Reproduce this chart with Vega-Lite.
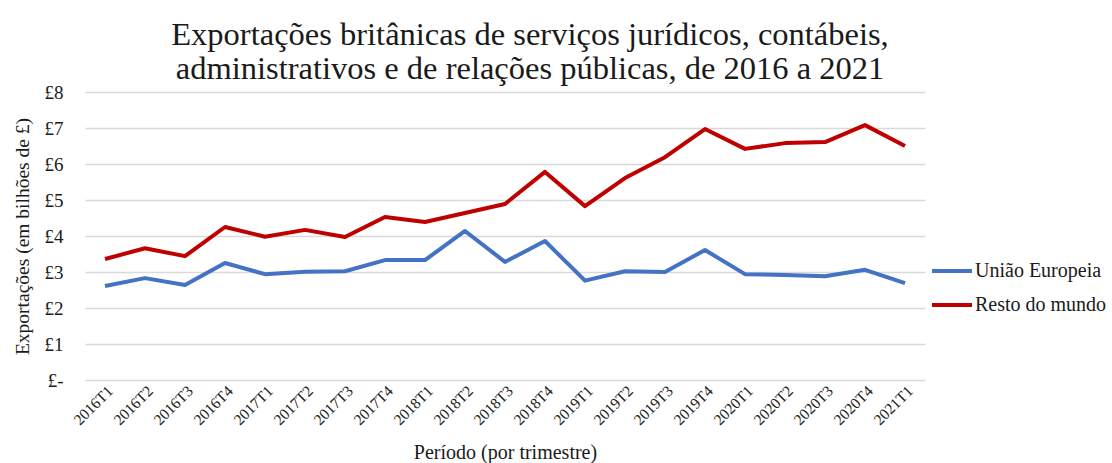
{
  "$schema": "https://vega.github.io/schema/vega-lite/v6.json",
  "width": 840,
  "height": 288,
  "autosize": "none",
  "padding": {"left": 85, "top": 92, "right": 187, "bottom": 83},
  "background": "white",
  "config": {"font": "Liberation Serif", "view": {"stroke": null}},
  "title": {
    "text": ["Exportações britânicas de serviços jurídicos, contábeis,", "administrativos e de relações públicas, de 2016 a 2021"],
    "font": "Liberation Serif",
    "fontSize": 32.5,
    "fontWeight": "normal",
    "color": "#1a1a1a",
    "anchor": "middle",
    "dx": 25,
    "offset": -2,
    "lineHeight": 34
  },
  "data": {
    "values": [
      {"periodo": "2016T1", "serie": "União Europeia", "valor": 2.61},
      {"periodo": "2016T2", "serie": "União Europeia", "valor": 2.83},
      {"periodo": "2016T3", "serie": "União Europeia", "valor": 2.64},
      {"periodo": "2016T4", "serie": "União Europeia", "valor": 3.25},
      {"periodo": "2017T1", "serie": "União Europeia", "valor": 2.94},
      {"periodo": "2017T2", "serie": "União Europeia", "valor": 3.01},
      {"periodo": "2017T3", "serie": "União Europeia", "valor": 3.02},
      {"periodo": "2017T4", "serie": "União Europeia", "valor": 3.33},
      {"periodo": "2018T1", "serie": "União Europeia", "valor": 3.33},
      {"periodo": "2018T2", "serie": "União Europeia", "valor": 4.14},
      {"periodo": "2018T3", "serie": "União Europeia", "valor": 3.28},
      {"periodo": "2018T4", "serie": "União Europeia", "valor": 3.86},
      {"periodo": "2019T1", "serie": "União Europeia", "valor": 2.76},
      {"periodo": "2019T2", "serie": "União Europeia", "valor": 3.02},
      {"periodo": "2019T3", "serie": "União Europeia", "valor": 3.0},
      {"periodo": "2019T4", "serie": "União Europeia", "valor": 3.61},
      {"periodo": "2020T1", "serie": "União Europeia", "valor": 2.94},
      {"periodo": "2020T2", "serie": "União Europeia", "valor": 2.92},
      {"periodo": "2020T3", "serie": "União Europeia", "valor": 2.88},
      {"periodo": "2020T4", "serie": "União Europeia", "valor": 3.06},
      {"periodo": "2021T1", "serie": "União Europeia", "valor": 2.69},
      {"periodo": "2016T1", "serie": "Resto do mundo", "valor": 3.36},
      {"periodo": "2016T2", "serie": "Resto do mundo", "valor": 3.66},
      {"periodo": "2016T3", "serie": "Resto do mundo", "valor": 3.44},
      {"periodo": "2016T4", "serie": "Resto do mundo", "valor": 4.25},
      {"periodo": "2017T1", "serie": "Resto do mundo", "valor": 3.98},
      {"periodo": "2017T2", "serie": "Resto do mundo", "valor": 4.17},
      {"periodo": "2017T3", "serie": "Resto do mundo", "valor": 3.97},
      {"periodo": "2017T4", "serie": "Resto do mundo", "valor": 4.53},
      {"periodo": "2018T1", "serie": "Resto do mundo", "valor": 4.39},
      {"periodo": "2018T2", "serie": "Resto do mundo", "valor": 4.64},
      {"periodo": "2018T3", "serie": "Resto do mundo", "valor": 4.89},
      {"periodo": "2018T4", "serie": "Resto do mundo", "valor": 5.78},
      {"periodo": "2019T1", "serie": "Resto do mundo", "valor": 4.83},
      {"periodo": "2019T2", "serie": "Resto do mundo", "valor": 5.61},
      {"periodo": "2019T3", "serie": "Resto do mundo", "valor": 6.19},
      {"periodo": "2019T4", "serie": "Resto do mundo", "valor": 6.97},
      {"periodo": "2020T1", "serie": "Resto do mundo", "valor": 6.42},
      {"periodo": "2020T2", "serie": "Resto do mundo", "valor": 6.58},
      {"periodo": "2020T3", "serie": "Resto do mundo", "valor": 6.61},
      {"periodo": "2020T4", "serie": "Resto do mundo", "valor": 7.08},
      {"periodo": "2021T1", "serie": "Resto do mundo", "valor": 6.5}
    ]
  },
  "mark": {"type": "line", "strokeWidth": 4, "strokeJoin": "round"},
  "encoding": {
    "x": {
      "field": "periodo",
      "type": "ordinal",
      "scale": {"type": "point", "padding": 0.5},
      "axis": {
        "title": "Período (por trimestre)",
        "titleFont": "Liberation Serif",
        "titleFontSize": 20,
        "titleFontWeight": "normal",
        "titleColor": "#1a1a1a",
        "titlePadding": 14,
        "labelFont": "Liberation Serif",
        "labelFontSize": 15.5,
        "labelColor": "#1a1a1a",
        "labelAngle": -45,
        "labelPadding": 3,
        "domain": false,
        "ticks": false,
        "grid": false
      }
    },
    "y": {
      "field": "valor",
      "type": "quantitative",
      "scale": {"domain": [0, 8], "nice": false},
      "axis": {
        "title": "Exportações (em bilhões de £)",
        "titleFont": "Liberation Serif",
        "titleFontSize": 19.5,
        "titleFontWeight": "normal",
        "titleColor": "#1a1a1a",
        "titlePadding": 12,
        "labelFont": "Liberation Serif",
        "labelFontSize": 19,
        "labelColor": "#1a1a1a",
        "labelPadding": 22,
        "values": [0, 1, 2, 3, 4, 5, 6, 7, 8],
        "labelExpr": "datum.value == 0 ? '£-' : '£' + datum.value",
        "domain": false,
        "ticks": false,
        "grid": true,
        "gridColor": "#d9d9d9",
        "gridWidth": 1.5
      }
    },
    "color": {
      "field": "serie",
      "type": "nominal",
      "scale": {"domain": ["União Europeia", "Resto do mundo"], "range": ["#4472C4", "#C00000"]},
      "legend": {
        "title": null,
        "orient": "none",
        "legendX": 845,
        "legendY": 157,
        "symbolType": "stroke",
        "symbolStrokeWidth": 4,
        "symbolSize": 1600,
        "labelFont": "Liberation Serif",
        "labelFontSize": 20,
        "labelColor": "#1a1a1a",
        "rowPadding": 2,
        "labelOffset": 1
      }
    }
  }
}
